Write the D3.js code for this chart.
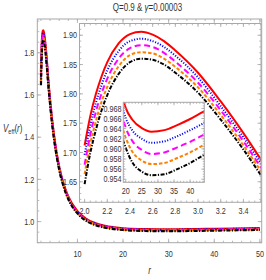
<!DOCTYPE html>
<meta charset="utf-8">
<style>
    body { margin: 0; background: #fff; }
    svg { display: block; }
    .tick-label { font: 9px "Liberation Sans", Arial, sans-serif; fill: #333; }
    .frame { fill: none; stroke: #a8a8a8; stroke-width: 1; }
    .tick { stroke: #a8a8a8; stroke-width: 0.8; }
</style>
<svg width="266" height="280"></svg>
<script src="https://cdn.jsdelivr.net/npm/d3@7"></script>
<script>

    // radial coordinate samples, shared by all five curves
    var radius = [2.0, 2.05, 2.1, 2.15, 2.2, 2.3, 2.4, 2.5, 2.6, 2.7, 2.8, 3.0, 3.2, 3.4, 3.6,
        4, 4.5, 5, 6, 7, 8, 10, 12, 14, 16, 18, 20, 22, 25, 28, 32, 36, 40, 44, 50];

    var vRed = [1.712, 1.762, 1.800, 1.830, 1.854, 1.886, 1.902, 1.906, 1.901, 1.890, 1.874, 1.836, 1.787, 1.733, 1.675,
        1.578, 1.473, 1.387, 1.260, 1.176, 1.118, 1.049, 1.012, 0.992, 0.980, 0.973, 0.9681, 0.9658, 0.9641, 0.9634, 0.9637, 0.9647, 0.9659, 0.9673, 0.9692];
    var vBlue = [1.696, 1.746, 1.785, 1.815, 1.840, 1.873, 1.890, 1.894, 1.890, 1.880, 1.865, 1.828, 1.779, 1.726, 1.669,
        1.572, 1.468, 1.383, 1.256, 1.173, 1.115, 1.046, 1.010, 0.990, 0.9778, 0.9708, 0.9661, 0.9637, 0.9620, 0.9612, 0.9615, 0.9625, 0.9637, 0.9650, 0.9670];
    var vMagenta = [1.679, 1.730, 1.770, 1.801, 1.826, 1.860, 1.878, 1.883, 1.880, 1.870, 1.855, 1.819, 1.772, 1.719, 1.662,
        1.567, 1.463, 1.378, 1.253, 1.170, 1.112, 1.044, 1.007, 0.987, 0.9755, 0.9686, 0.9642, 0.9616, 0.9598, 0.9590, 0.9593, 0.9603, 0.9614, 0.9627, 0.9646];
    var vOrange = [1.663, 1.715, 1.754, 1.787, 1.812, 1.847, 1.866, 1.871, 1.869, 1.860, 1.846, 1.811, 1.764, 1.712, 1.656,
        1.561, 1.458, 1.374, 1.249, 1.167, 1.109, 1.041, 1.005, 0.985, 0.9733, 0.9665, 0.9622, 0.9595, 0.9577, 0.9570, 0.9572, 0.9582, 0.9593, 0.9607, 0.9626];
    var vBlack = [1.646, 1.699, 1.739, 1.772, 1.798, 1.834, 1.854, 1.860, 1.858, 1.850, 1.836, 1.802, 1.756, 1.705, 1.649,
        1.556, 1.453, 1.370, 1.246, 1.163, 1.106, 1.039, 1.002, 0.983, 0.9711, 0.9643, 0.9602, 0.9574, 0.9555, 0.9548, 0.9550, 0.9560, 0.9572, 0.9587, 0.9606];

    var mainXTicks = [10, 20, 30, 40, 50],
        mainYTicks = [1.0, 1.2, 1.4, 1.6, 1.8],
        zoomXTicks = [2.0, 2.2, 2.4, 2.6, 2.8, 3.0, 3.2, 3.4],
        zoomYTicks = [1.65, 1.70, 1.75, 1.80, 1.85, 1.90],
        tailXTicks = [20, 25, 30, 35, 40],
        tailYTicks = [0.954, 0.956, 0.958, 0.960, 0.962, 0.964, 0.966, 0.968];

    var series = [
        {color: "#ff0000", dash: null, values: vRed},
        {color: "#0000ff", dash: "1.1,1.6", values: vBlue},
        {color: "#ff00ff", dash: "6,3.5", values: vMagenta},
        {color: "#ff8000", dash: "3.5,2", values: vOrange},
        {color: "#000000", dash: "4,1.5,1.2,1.5", values: vBlack}
    ];

    var svg = d3.select("svg");

    // text is squeezed a little horizontally, like the original
    function label(g, x, y, str, anchor, size) {
        return g.append("text")
            .attr("class", "tick-label")
            .attr("transform", "translate(" + x + "," + y + ") scale(0.8,1)")
            .attr("text-anchor", anchor || "middle")
            .style("font-size", (size || 9) + "px")
            .text(str);
    }

    function panel(p) {
        var g = svg.append("g");
        var x = d3.scaleLinear().domain(p.xDomain).range([p.left, p.right]);
        var y = d3.scaleLinear().domain(p.yDomain).range([p.bottom, p.top]);

        g.append("rect")
            .attr("x", p.left).attr("y", p.top)
            .attr("width", p.right - p.left).attr("height", p.bottom - p.top)
            .attr("fill", "#fff");

        var clipId = "clip-" + p.name;
        g.append("clipPath").attr("id", clipId)
            .append("rect")
            .attr("x", p.left).attr("y", p.top)
            .attr("width", p.right - p.left).attr("height", p.bottom - p.top);

        var line = d3.line()
            .x(function (d) { return x(d[0]); })
            .y(function (d) { return y(d[1]); })
            .curve(d3.curveMonotoneX);

        g.append("g").attr("clip-path", "url(#" + clipId + ")")
            .selectAll("path")
            .data(series)
            .enter().append("path")
            .attr("fill", "none")
            .attr("stroke", function (d) { return d.color; })
            .attr("stroke-width", p.lineWidth)
            .attr("stroke-dasharray", function (d) { return d.dash; })
            .attr("d", function (d) {
                return line(radius.map(function (r, i) { return [r, d.values[i]]; }));
            });

        // ticks on all four sides, pointing inward
        var eps = 1e-9;
        var xMinor = d3.range(Math.ceil(p.xDomain[0] / p.xMinor) * p.xMinor, p.xDomain[1] + eps, p.xMinor);
        var yMinor = d3.range(Math.ceil(p.yDomain[0] / p.yMinor) * p.yMinor, p.yDomain[1] + eps, p.yMinor);
        var ticks = g.append("g");

        function xTick(v, len) {
            ticks.append("line").attr("class", "tick")
                .attr("x1", x(v)).attr("x2", x(v)).attr("y1", p.bottom).attr("y2", p.bottom - len);
            ticks.append("line").attr("class", "tick")
                .attr("x1", x(v)).attr("x2", x(v)).attr("y1", p.top).attr("y2", p.top + len);
        }

        function yTick(v, len) {
            ticks.append("line").attr("class", "tick")
                .attr("y1", y(v)).attr("y2", y(v)).attr("x1", p.left).attr("x2", p.left + len);
            ticks.append("line").attr("class", "tick")
                .attr("y1", y(v)).attr("y2", y(v)).attr("x1", p.right).attr("x2", p.right - len);
        }

        xMinor.forEach(function (v) { xTick(v, p.minorLen); });
        yMinor.forEach(function (v) { yTick(v, p.minorLen); });
        p.xTicks.forEach(function (v) { xTick(v, p.majorLen); });
        p.yTicks.forEach(function (v) { yTick(v, p.majorLen); });

        g.append("rect").attr("class", "frame")
            .attr("x", p.left).attr("y", p.top)
            .attr("width", p.right - p.left).attr("height", p.bottom - p.top);

        p.xTicks.forEach(function (v) {
            label(g, x(v), p.bottom + p.xLabelGap, p.xFormat(v), "middle");
        });
        p.yTicks.forEach(function (v) {
            label(g, p.left - p.yLabelGap, y(v) + 3.2, p.yFormat(v), "end");
        });

        return g;
    }

    panel({
        name: "main", left: 37.3, right: 261.7, top: 19, bottom: 242.7,
        xDomain: [1.2, 50.4], yDomain: [0.90, 1.96],
        xTicks: mainXTicks, yTicks: mainYTicks, xMinor: 2, yMinor: 0.05,
        xFormat: d3.format("d"), yFormat: d3.format(".1f"),
        majorLen: 4, minorLen: 2, lineWidth: 2.2,
        xLabelGap: 14.3, yLabelGap: 3
    });

    panel({
        name: "peak", left: 79.5, right: 261, top: 23.5, bottom: 202.3,
        xDomain: [1.955, 3.555], yDomain: [1.615, 1.920],
        xTicks: zoomXTicks, yTicks: zoomYTicks, xMinor: 0.05, yMinor: 0.01,
        xFormat: d3.format(".1f"), yFormat: d3.format(".2f"),
        majorLen: 3.5, minorLen: 1.8, lineWidth: 2,
        xLabelGap: 11.7, yLabelGap: 2.5
    });

    panel({
        name: "tail", left: 123.3, right: 204.3, top: 102.3, bottom: 182.3,
        xDomain: [19.25, 44.4], yDomain: [0.9534, 0.9692],
        xTicks: tailXTicks, yTicks: tailYTicks, xMinor: 1, yMinor: 0.0005,
        xFormat: d3.format("d"), yFormat: d3.format(".3f"),
        majorLen: 3, minorLen: 1.5, lineWidth: 2,
        xLabelGap: 11.7, yLabelGap: 1.8
    });

    // title
    var title = label(svg, 147.5, 11, "", "middle", 10);
    title.append("tspan").text("Q=0.9 & ");
    title.append("tspan").style("font-style", "italic").text("γ");
    title.append("tspan").text("=0.00003");

    // axis labels
    var yLab = label(svg, 3, 132, "", "start", 10);
    yLab.append("tspan").style("font-style", "italic").text("V");
    yLab.append("tspan").attr("dy", 2).style("font-size", "7px").text("eff");
    yLab.append("tspan").attr("dy", -2).text("(");
    yLab.append("tspan").style("font-style", "italic").text("r");
    yLab.append("tspan").text(")");

    label(svg, 149.5, 274, "r", "middle", 10).style("font-style", "italic");

</script>
